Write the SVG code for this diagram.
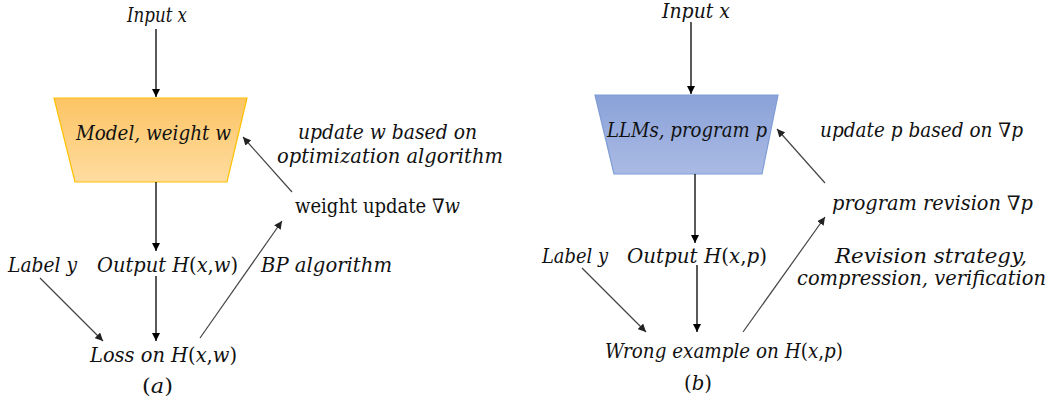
<svg xmlns="http://www.w3.org/2000/svg" width="1051" height="406" viewBox="0 0 1051 406">
<defs>
<linearGradient id="gOrange" x1="0" y1="0" x2="0" y2="1">
<stop offset="0" stop-color="#FCC464"/>
<stop offset="1" stop-color="#FFDCA0"/>
</linearGradient>
<linearGradient id="gBlue" x1="0" y1="0" x2="0" y2="1">
<stop offset="0" stop-color="#8AA2D8"/>
<stop offset="1" stop-color="#AABAE4"/>
</linearGradient>
<marker id="ah" viewBox="0 0 10 10" refX="10" refY="5" markerWidth="8" markerHeight="8" markerUnits="userSpaceOnUse" orient="auto">
<path d="M0,0 L10,5 L0,10 z" fill="#000"/>
</marker>
<marker id="ahg" viewBox="0 0 10 10" refX="10" refY="5" markerWidth="8" markerHeight="8" markerUnits="userSpaceOnUse" orient="auto">
<path d="M0,0 L10,5 L0,10 z" fill="#222"/>
</marker>
</defs>
<style>
text{font-family:"DejaVu Serif","Liberation Serif",serif;font-size:20px;font-style:italic;fill:#111}
.up{font-style:normal}
.it{font-style:italic}
.v{stroke:#000;stroke-width:1.3;fill:none;marker-end:url(#ah)}
.d{stroke:#444;stroke-width:1.2;fill:none;marker-end:url(#ahg)}
</style>
<rect width="1051" height="406" fill="#fff"/>

<g id="model">
<polygon points="54,98 247,98 227,182 75,182" fill="url(#gOrange)" stroke="#FFC000" stroke-width="1.2"/>
<text x="76" y="140" textLength="155" lengthAdjust="spacingAndGlyphs">Model, weight w</text>
</g>
<g id="llm">
<polygon points="595,95 778,95 762,174 614,174" fill="url(#gBlue)" stroke="#7F9CD6" stroke-width="1.2"/>
<text x="607" y="137" textLength="160" lengthAdjust="spacingAndGlyphs">LLMs, program p</text>
</g>

<g id="input-a"><text x="127" y="22" textLength="60" lengthAdjust="spacingAndGlyphs">Input x</text></g>
<g id="input-b"><text x="662" y="18" textLength="68" lengthAdjust="spacingAndGlyphs">Input x</text></g>

<g id="update-w">
<text x="298" y="139" textLength="179" lengthAdjust="spacingAndGlyphs">update w based on</text>
<text x="277" y="163" textLength="226" lengthAdjust="spacingAndGlyphs">optimization algorithm</text>
</g>
<g id="weight-update"><text x="295" y="213" textLength="165" lengthAdjust="spacingAndGlyphs"><tspan class="up">weight update ∇</tspan><tspan class="it">w</tspan></text></g>
<g id="label-a"><text x="8" y="272" textLength="69" lengthAdjust="spacingAndGlyphs">Label y</text></g>
<g id="output-a"><text x="97" y="272" textLength="141" lengthAdjust="spacingAndGlyphs">Output H<tspan class="up">(</tspan>x<tspan class="up">,</tspan>w<tspan class="up">)</tspan></text></g>
<g id="bp"><text x="261" y="272" textLength="131" lengthAdjust="spacingAndGlyphs">BP algorithm</text></g>
<g id="loss"><text x="90" y="362" textLength="147" lengthAdjust="spacingAndGlyphs">Loss on H<tspan class="up">(</tspan>x<tspan class="up">,</tspan>w<tspan class="up">)</tspan></text></g>
<g id="cap-a"><text x="142" y="393" textLength="31" lengthAdjust="spacingAndGlyphs"><tspan class="up">(</tspan>a<tspan class="up">)</tspan></text></g>

<g id="update-p"><text x="820" y="137" textLength="203" lengthAdjust="spacingAndGlyphs">update p based on <tspan class="up">∇</tspan>p</text></g>
<g id="revision"><text x="832" y="210" textLength="201" lengthAdjust="spacingAndGlyphs">program revision <tspan class="up">∇</tspan>p</text></g>
<g id="label-b"><text x="542" y="263" textLength="66" lengthAdjust="spacingAndGlyphs">Label y</text></g>
<g id="output-b"><text x="627" y="263" textLength="140" lengthAdjust="spacingAndGlyphs">Output H<tspan class="up">(</tspan>x<tspan class="up">,</tspan>p<tspan class="up">)</tspan></text></g>
<g id="strategy">
<text x="835" y="263" textLength="192" lengthAdjust="spacingAndGlyphs">Revision strategy,</text>
<text x="797" y="285" textLength="249" lengthAdjust="spacingAndGlyphs">compression, verification</text>
</g>
<g id="wrong"><text x="605" y="358" textLength="238" lengthAdjust="spacingAndGlyphs">Wrong example on H<tspan class="up">(</tspan>x<tspan class="up">,</tspan>p<tspan class="up">)</tspan></text></g>
<g id="cap-b"><text x="684" y="390" textLength="28" lengthAdjust="spacingAndGlyphs"><tspan class="up">(</tspan>b<tspan class="up">)</tspan></text></g>

<g id="connectors">
<line class="v" x1="156" y1="29" x2="156" y2="97"/>
<line class="v" x1="156" y1="182" x2="156" y2="251"/>
<line class="v" x1="156" y1="276" x2="156" y2="341"/>
<line class="d" x1="40" y1="278" x2="103" y2="341"/>
<line class="d" x1="200" y1="338" x2="282" y2="221"/>
<line class="d" x1="292" y1="192" x2="243" y2="137"/>

<line class="v" x1="691" y1="22" x2="691" y2="94"/>
<line class="v" x1="695" y1="174" x2="695" y2="243"/>
<line class="v" x1="697" y1="265" x2="697" y2="332"/>
<line class="d" x1="582" y1="268" x2="646" y2="332"/>
<line class="d" x1="743" y1="332" x2="825" y2="217"/>
<line class="d" x1="825" y1="183" x2="777" y2="129"/>
</g>
</svg>
